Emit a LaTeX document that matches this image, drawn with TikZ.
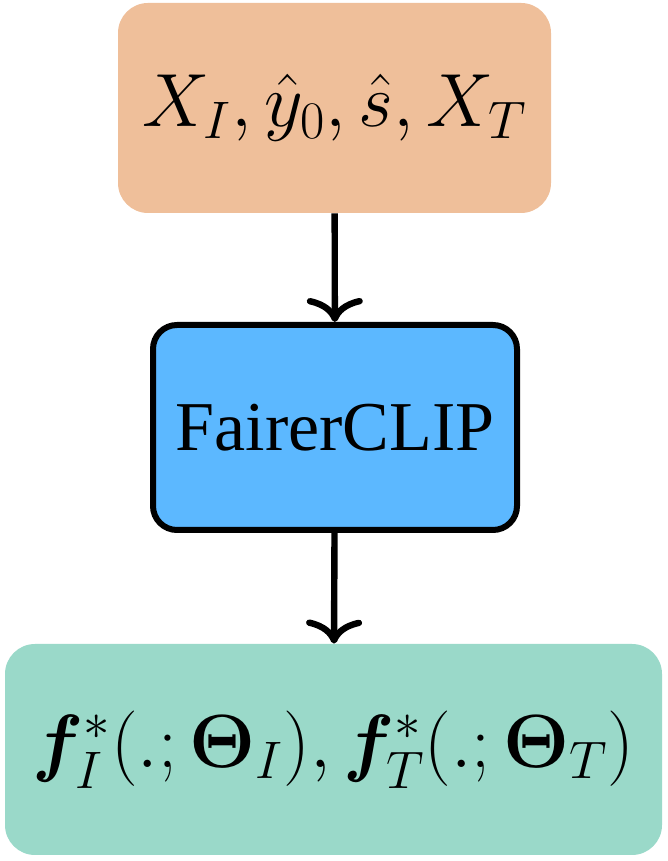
\documentclass[tikz,border=0pt]{standalone}
\usepackage{fix-cm}
\usepackage{amsmath,amssymb}
\usepackage{bm}
\usepackage{fontspec}
\newfontfamily\timesfont{Liberation Serif}
\usetikzlibrary{arrows.meta,positioning}

\begin{document}
\begin{tikzpicture}[x=0.5pt,y=0.5pt]
\definecolor{inbox}{HTML}{EFBF9A}
\definecolor{clipbox}{HTML}{5CB8FF}
\definecolor{outbox}{HTML}{9AD9C9}
\tikzset{
    stage/.style={rounded corners=15pt,inner sep=0pt,align=center,
        font=\fontsize{37.7}{42}\selectfont},
    flow/.style={-{Computer Modern Rightarrow[length=12pt,width=28pt]},line width=3.2pt}
}
\useasboundingbox (0,0) rectangle (668,861);

% input, model, output
\node[stage,fill=inbox,minimum width=216.5pt,minimum height=105pt] (inputs) at (334.5,753)
    {$X_I,\hat{y}_0,\hat{s},X_T$};
\node[stage,fill=clipbox,draw=black,line width=3pt,rounded corners=12pt,
    minimum width=182pt,minimum height=102.5pt,font=\timesfont\fontsize{35}{40}\selectfont] (clip) at (335,433.5)
    {FairerCLIP};
\node[stage,fill=outbox,minimum width=328.5pt,minimum height=105.5pt] (outputs) at (333.5,111.5)
    {$\bm{f}^*_I(.;\bm{\Theta}_I),\bm{f}^*_T(.;\bm{\Theta}_T)$};

\draw[flow] (inputs) -- (clip);
\draw[flow] (clip) -- (outputs);
\end{tikzpicture}
\end{document}
